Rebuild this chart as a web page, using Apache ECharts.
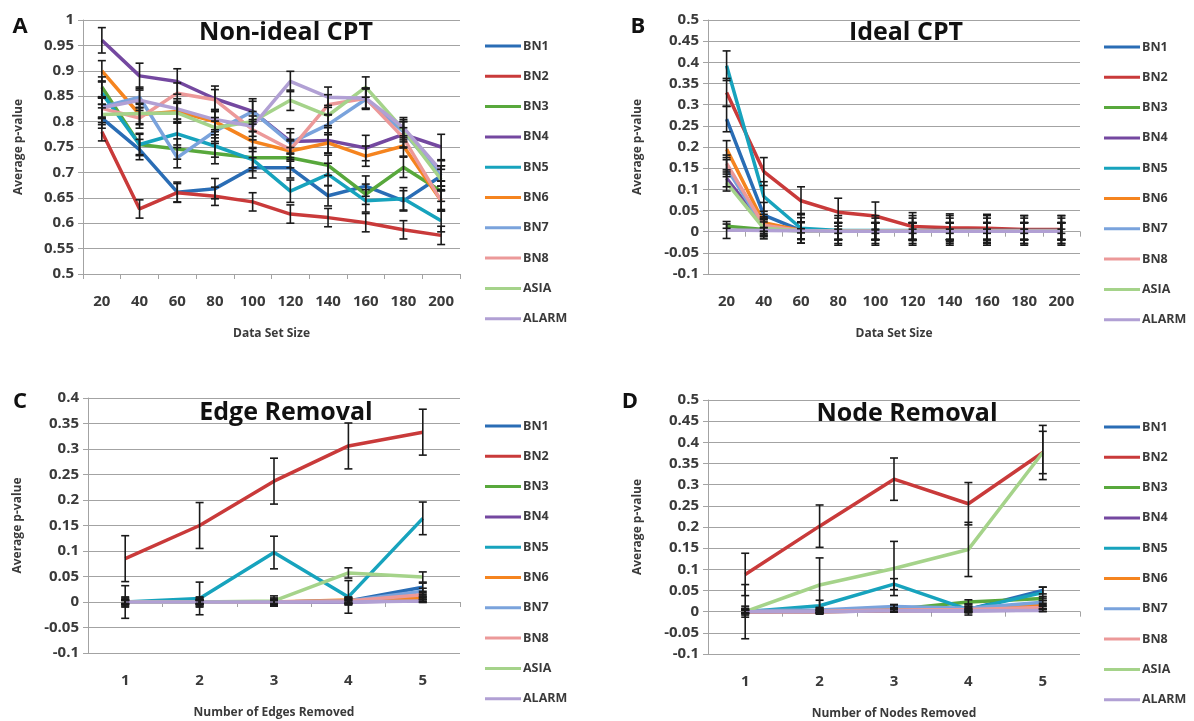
<!DOCTYPE html>
<html>
<head>
<meta charset="utf-8">
<script src="https://cdn.jsdelivr.net/npm/echarts@6/dist/echarts.min.js"></script>
<style>
    html, body {margin: 0; background: #fff;}
    #chart {width: 1194px; height: 721px;}
</style>
</head>
<body>
<div id="chart"></div>
<script>
// series order: BN1 BN2 BN3 BN4 BN5 BN6 BN7 BN8 ASIA ALARM
const names = ['BN1', 'BN2', 'BN3', 'BN4', 'BN5', 'BN6', 'BN7', 'BN8', 'ASIA', 'ALARM']
const colors = ['#2a6db5', '#c93a3a', '#58a83c', '#7448a0', '#17a3bd', '#f5841f', '#7aa3dc', '#ec9999', '#a5d38a', '#b1a0d4']

const dataSizes = ['20', '40', '60', '80', '100', '120', '140', '160', '180', '200']
const removedCounts = ['1', '2', '3', '4', '5']

// A - Non-ideal CPT
const nonIdealCPT = [
    [0.807, 0.745, 0.661, 0.668, 0.709, 0.709, 0.654, 0.673, 0.644, 0.693],
    [0.780, 0.628, 0.660, 0.653, 0.642, 0.618, 0.611, 0.601, 0.587, 0.576],
    [0.868, 0.755, 0.746, 0.737, 0.729, 0.729, 0.714, 0.657, 0.710, 0.663],
    [0.960, 0.890, 0.879, 0.845, 0.820, 0.761, 0.763, 0.748, 0.775, 0.750],
    [0.856, 0.755, 0.776, 0.752, 0.725, 0.663, 0.696, 0.644, 0.648, 0.605],
    [0.900, 0.814, 0.820, 0.800, 0.761, 0.742, 0.758, 0.732, 0.752, 0.644],
    [0.829, 0.848, 0.729, 0.781, 0.820, 0.758, 0.794, 0.844, 0.780, 0.693],
    [0.826, 0.807, 0.856, 0.843, 0.784, 0.745, 0.833, 0.846, 0.768, 0.644],
    [0.814, 0.816, 0.817, 0.788, 0.800, 0.842, 0.812, 0.868, 0.784, 0.686],
    [0.827, 0.842, 0.825, 0.804, 0.791, 0.879, 0.848, 0.846, 0.788, 0.703]
]
const nonIdealErr = [0.02, 0.018, 0.02, 0.025, 0.022, 0.02, 0.02, 0.02, 0.02, 0.02]

// B - Ideal CPT
const idealCPT = [
    [0.266, 0.039, 0.003, 0.002, 0.002, 0.002, 0.002, 0.002, 0.002, 0.002],
    [0.329, 0.142, 0.073, 0.046, 0.037, 0.012, 0.009, 0.008, 0.005, 0.005],
    [0.013, 0.005, 0.002, 0.001, 0.001, 0.001, 0.001, 0.001, 0.001, 0.001],
    [0.126, 0.012, 0.002, 0.001, 0.001, 0.001, 0.001, 0.001, 0.001, 0.001],
    [0.392, 0.083, 0.008, 0.003, 0.003, 0.003, 0.003, 0.003, 0.003, 0.003],
    [0.195, 0.021, 0.003, 0.002, 0.002, 0.002, 0.002, 0.002, 0.002, 0.002],
    [0.150, 0.010, 0.002, 0.001, 0.001, 0.001, 0.001, 0.001, 0.001, 0.001],
    [0.161, 0.015, 0.002, 0.001, 0.001, 0.001, 0.001, 0.001, 0.001, 0.001],
    [0.116, 0.008, 0.002, 0.001, 0.001, 0.001, 0.001, 0.001, 0.001, 0.001],
    [0.004, 0.003, 0.002, 0.001, 0.001, 0.001, 0.001, 0.001, 0.001, 0.001]
]
const idealErr = [0.03, 0.033, 0.005, 0.02, 0.035, 0.02, 0.02, 0.02, 0.02, 0.02]

// C - Edge Removal
const edgeRemoval = [
    [0, 0, 0, 0.002, 0.029],
    [0.085, 0.150, 0.237, 0.306, 0.333],
    [0, 0, 0, 0.001, 0.005],
    [0, 0, 0, 0, 0.003],
    [0, 0.007, 0.097, 0.010, 0.164],
    [0, 0, 0, 0.004, 0.008],
    [0, 0, 0, 0.002, 0.021],
    [0, 0, 0, 0.002, 0.014],
    [0, 0, 0.002, 0.057, 0.049],
    [0, 0, 0, 0, 0.002]
]
const edgeErr = [0.008, 0.045, 0.004, 0.003, 0.032, 0.004, 0.006, 0.004, 0.01, 0.003]

// D - Node Removal
const nodeRemoval = [
    [0, 0.002, 0.008, 0.005, 0.050],
    [0.088, 0.202, 0.313, 0.255, 0.376],
    [0, 0.002, 0.005, 0.023, 0.031],
    [0, 0, 0.002, 0.002, 0.004],
    [0, 0.014, 0.065, 0.005, 0.045],
    [0, 0, 0.003, 0.004, 0.016],
    [0.002, 0.004, 0.012, 0.008, 0.022],
    [0, 0.001, 0.004, 0.005, 0.010],
    [0, 0.063, 0.102, 0.147, 0.376],
    [0, 0, 0.002, 0.002, 0.003]
]
const nodeErr = [0.008, 0.05, 0.005, 0.003, 0.013, 0.004, 0.005, 0.004, 0.064, 0.003]

const font = 'Open Sans'
const textColor = '#3a3a3a'
const gridColor = '#a3a3a3'

const panels = [
    {letter: 'A', title: 'Non-ideal CPT', cats: dataSizes, vals: nonIdealCPT, err: nonIdealErr, min: 0.5, max: 1, xName: 'Data Set Size',
        grid: {left: 83, top: 20, width: 377, height: 254}, legend: [485, 39], titlePos: [286, 33], letterPos: [20, 27], yGap: 58},
    {letter: 'B', title: 'Ideal CPT', cats: dataSizes, vals: idealCPT, err: idealErr, min: -0.1, max: 0.5, xName: 'Data Set Size',
        grid: {left: 708, top: 20, width: 372, height: 254}, legend: [1104, 40], titlePos: [906, 33], letterPos: [638, 27], yGap: 64},
    {letter: 'C', title: 'Edge Removal', cats: removedCounts, vals: edgeRemoval, err: edgeErr, min: -0.1, max: 0.4, xName: 'Number of Edges Removed',
        grid: {left: 88, top: 398, width: 372, height: 255}, legend: [485, 419], titlePos: [286, 413], letterPos: [20, 402], yGap: 64},
    {letter: 'D', title: 'Node Removal', cats: removedCounts, vals: nodeRemoval, err: nodeErr, min: -0.1, max: 0.5, xName: 'Number of Nodes Removed',
        grid: {left: 708, top: 400, width: 372, height: 255}, legend: [1104, 420], titlePos: [907, 414], letterPos: [630, 402], yGap: 64}
]

function errorBar(params, api) {
    let x = api.value(0)
    let y = api.value(1)
    let e = api.value(2)
    let hi = api.coord([x, y + e])
    let lo = api.coord([x, y - e])
    let w = 4
    let st = {stroke: '#1a1a1a', lineWidth: 1.6}
    return {
        type: 'group',
        children: [
            {type: 'line', shape: {x1: hi[0], y1: hi[1], x2: lo[0], y2: lo[1]}, style: st},
            {type: 'line', shape: {x1: hi[0] - w, y1: hi[1], x2: hi[0] + w, y2: hi[1]}, style: st},
            {type: 'line', shape: {x1: lo[0] - w, y1: lo[1], x2: lo[0] + w, y2: lo[1]}, style: st}
        ]
    }
}

let grids = [], xAxes = [], yAxes = [], legends = [], series = [], graphics = []

panels.forEach((p, i) => {
    grids.push(p.grid)
    // axis line + ticks (sits on zero when 0 is in range)
    xAxes.push({
        type: 'category', gridIndex: i, data: p.cats, position: 'bottom',
        axisLine: {show: true, onZero: true, lineStyle: {color: gridColor, width: 1}},
        axisTick: {show: true, length: 5, lineStyle: {color: gridColor}},
        axisLabel: {show: false}
    })
    // labels + name at the bottom
    xAxes.push({
        type: 'category', gridIndex: i, data: p.cats, position: 'bottom',
        axisLine: {show: false, onZero: false}, axisTick: {show: false},
        axisLabel: {margin: 20, color: textColor, fontFamily: font, fontSize: 15, fontWeight: 'bold'},
        name: p.xName, nameLocation: 'middle', nameGap: 54,
        nameTextStyle: {color: textColor, fontFamily: font, fontSize: 12, fontWeight: 'bold'}
    })
    yAxes.push({
        type: 'value', gridIndex: i, min: p.min, max: p.max, interval: 0.05,
        axisLine: {show: true, lineStyle: {color: gridColor}},
        axisTick: {show: true, length: 5, lineStyle: {color: gridColor}},
        splitLine: {lineStyle: {color: gridColor, width: 1}},
        axisLabel: {margin: 9, color: textColor, fontFamily: font, fontSize: 15, fontWeight: 'bold'},
        name: 'Average p-value', nameLocation: 'middle', nameGap: p.yGap, nameRotate: 90,
        nameTextStyle: {color: textColor, fontFamily: font, fontSize: 12, fontWeight: 'bold'}
    })
    legends.push({
        data: names, orient: 'vertical', left: p.legend[0], top: p.legend[1], padding: 0,
        icon: 'rect', itemWidth: 36, itemHeight: 3, itemGap: 16.3, selectedMode: false,
        textStyle: {color: textColor, fontFamily: font, fontSize: 12.5, fontWeight: 'bold', lineHeight: 14, padding: [0, 0, 0, -3]}
    })
    names.forEach((n, k) => {
        series.push({
            name: n, type: 'line', xAxisIndex: 2 * i, yAxisIndex: i,
            data: p.vals[k], showSymbol: false, symbol: 'none',
            lineStyle: {width: 3.5, color: colors[k]}, itemStyle: {color: colors[k]},
            z: 2, animation: false
        })
    })
    names.forEach((n, k) => {
        series.push({
            name: 'err-' + p.letter + '-' + n, type: 'custom', xAxisIndex: 2 * i, yAxisIndex: i,
            data: p.vals[k].map((v, j) => [j, v, p.err[k]]),
            encode: {x: 0, y: 1}, renderItem: errorBar, z: 3, animation: false
        })
    })
    graphics.push({
        type: 'text', x: p.titlePos[0], y: p.titlePos[1], z: 10,
        style: {text: p.title, fill: '#111', font: 'bold 25px "Open Sans"', textAlign: 'center', textVerticalAlign: 'middle'}
    })
    graphics.push({
        type: 'text', x: p.letterPos[0], y: p.letterPos[1], z: 10,
        style: {text: p.letter, fill: '#111', font: 'bold 22px "Open Sans"', textAlign: 'center', textVerticalAlign: 'middle'}
    })
})

let chart = echarts.init(document.getElementById('chart'))
chart.setOption({
    animation: false,
    backgroundColor: '#fff',
    grid: grids,
    xAxis: xAxes,
    yAxis: yAxes,
    legend: legends,
    series: series,
    graphic: graphics
})
</script>
</body>
</html>
